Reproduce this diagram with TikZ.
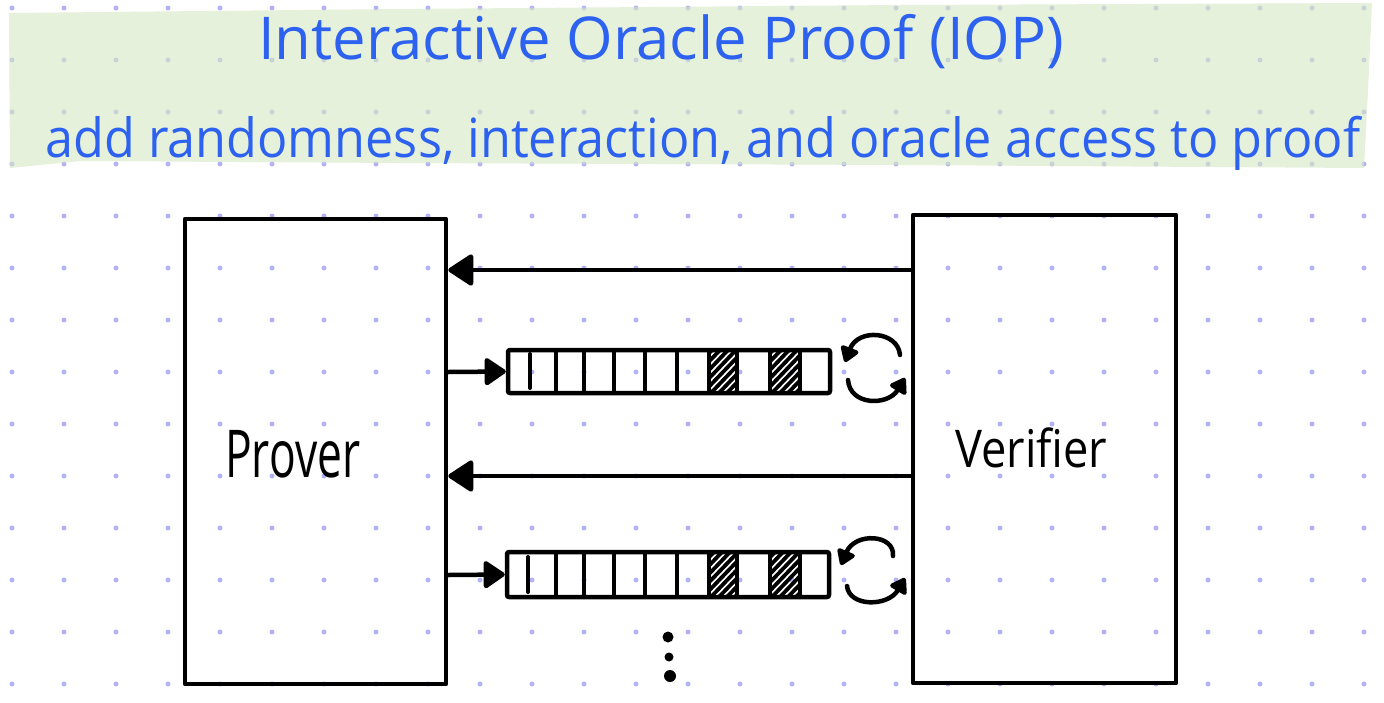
\documentclass[tikz,border=0pt]{standalone}
\usepackage{fontspec}
\setmainfont{Open Sans}
\usetikzlibrary{arrows.meta}
\definecolor{inkblue}{RGB}{45,98,240}
\definecolor{dotc}{RGB}{178,178,245}
\definecolor{bandc}{RGB}{214,232,196}
\tikzset{
  box/.style={draw, line width=4.5pt, line join=round, inner sep=0pt},
  tapebox/.style={draw, line width=4.5pt, line join=round, rounded corners=2pt, inner sep=0pt},
  cellline/.style={line width=4pt, line cap=round},
  conn/.style={line width=4.5pt, line cap=round, -{Triangle[length=27pt,width=34pt,round]}},
  conn2/.style={line width=4.5pt, line cap=round, -{Triangle[length=23pt,width=30pt,round]}},
  loop/.style={line width=4.5pt, line cap=round, -{Triangle[length=17pt,width=21pt,round]}},
  hatch/.style={line width=3.8pt},
  bluetext/.style={inkblue, inner sep=0pt, anchor=base west},
  blacktext/.style={black, inner sep=0pt, anchor=base west}
}
\begin{document}
\begin{tikzpicture}[x=1pt,y=-1pt]
\useasboundingbox (0,0) rectangle (1384,702);
\fill[white] (0,0) rectangle (1384,702);
% dot grid
\foreach \i in {0,...,26}{
  \foreach \j in {0,...,13}{
    \fill[dotc] (12+52*\i, 8+52*\j) circle (2.5);
  }
}
% green band
\fill[bandc, fill opacity=0.6] (9,13) -- (400,9) -- (900,5) -- (1372,3) -- (1368,90) -- (1364,168) -- (900,165) -- (400,163) -- (80,161) -- (10,168) -- cycle;
% titles
\node[bluetext] (title) at (258,59) {\resizebox{806pt}{\height}{\fontsize{59}{60}\selectfont Interactive Oracle Proof (IOP)}};
\node[bluetext] (subtitle) at (45,157) {\resizebox{1315pt}{\height}{\fontsize{54}{56}\selectfont add randomness, interaction, and oracle access to proof}};
% boxes
\node[box, minimum width=261pt, minimum height=465pt] (prover) at (315.5,451.5) {};
\node[box, minimum width=263pt, minimum height=468pt] (verifier) at (1044.5,449) {};
\node[blacktext] (provertext) at (225,477) {\resizebox{135pt}{\height}{\fontsize{66}{68}\selectfont Prover}};
\node[blacktext] (verifiertext) at (955,467) {\resizebox{152pt}{\height}{\fontsize{52}{54}\selectfont Verifier}};
% tapes
\node[tapebox, minimum width=322pt, minimum height=43pt] (tape1) at (669,371.5) {};
\node[tapebox, minimum width=322pt, minimum height=45pt] (tape2) at (668,574.5) {};
% hatched cells
\foreach \a/\b in {709/737, 770/800}{
  \begin{scope}
    \clip (\a,350) rectangle (\b,393);
    \foreach \k in {-48,-40,...,40}{
      \draw[hatch] (\a+\k,395) -- (\a+\k+45,348);
    }
  \end{scope}
  \begin{scope}
    \clip (\a,552) rectangle (\b,597);
    \foreach \k in {-48,-40,...,40}{
      \draw[hatch] (\a+\k,599) -- (\a+\k+47,550);
    }
  \end{scope}
}
% cell dividers
\foreach \x in {556,584,614,645,677,709,737,770,800}{
  \draw[cellline] (\x,350) -- (\x,393);
  \draw[cellline] (\x,552) -- (\x,597);
}
\draw[cellline] (530,354) -- (530,388);
\draw[cellline] (528,557) -- (528,592);
% connectors
\coordinate (r1) at (0,270);
\coordinate (r2) at (0,476);
\coordinate (s1) at (0,372);
\coordinate (s2) at (0,575);
\draw[conn] (verifier.west |- r1) -- (prover.east |- r1);
\draw[conn] (verifier.west |- r2) -- (prover.east |- r2);
\draw[conn2] (prover.east |- s1) -- (tape1.west);
\draw[conn2] (prover.east |- s2) -- (tape2.west);
% query loops
\draw[loop] (900,355) .. controls (898,331) and (858,328) .. (845,362);
\draw[loop] (848,380) .. controls (850,406) and (888,406) .. (905,378);
\draw[loop] (893,556) .. controls (895,534) and (855,532) .. (841,565);
\draw[loop] (847,586) .. controls (849,607) and (888,607) .. (905,578);
% vertical ellipsis
\fill (668,637) circle (5.5);
\fill (669,657) circle (4.5);
\fill (670,676) circle (6);
\end{tikzpicture}
\end{document}
